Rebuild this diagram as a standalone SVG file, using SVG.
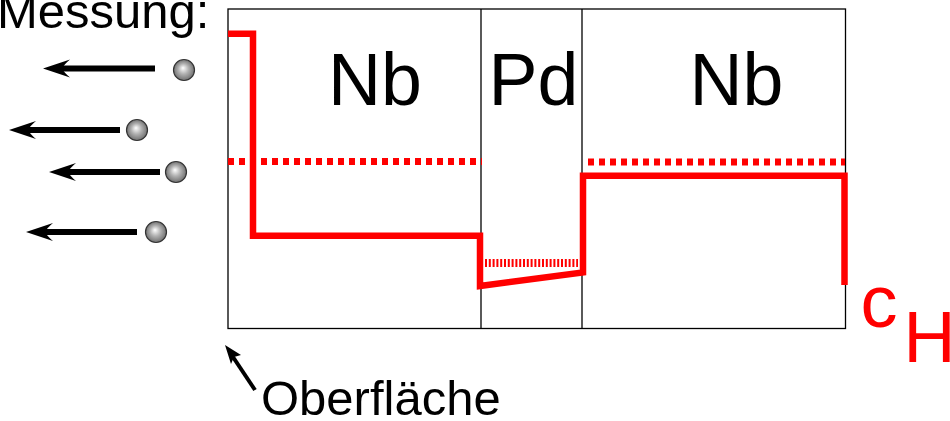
<svg xmlns="http://www.w3.org/2000/svg" width="950" height="421" viewBox="0 0 950 421">
<defs>
<radialGradient id="ball" cx="0.5" cy="0.5" r="0.5" fx="0.45" fy="0.4">
<stop offset="0" stop-color="#ffffff"/>
<stop offset="0.5" stop-color="#b0b0b0"/>
<stop offset="1" stop-color="#707070"/>
</radialGradient>
<path id="head" d="M0,0 Q12,-4 27,-9 Q21,-4 19,0 Q21,4 27,9 Q12,4 0,0 Z"/>
<style>
.txt{font-family:"Liberation Sans",Arial,sans-serif;fill:#000}
.box{fill:none;stroke:#000;stroke-width:1.3}
.red{fill:none;stroke:#ff0000;stroke-width:6.5;stroke-linejoin:miter;stroke-linecap:butt}
.dot{fill:none;stroke:#ff0000;stroke-width:7;stroke-dasharray:6 5}
.dotfine{fill:none;stroke:#ff0000;stroke-width:8;stroke-dasharray:2 1.8}
.shaft{stroke:#000;stroke-width:6}
.ball{fill:url(#ball);stroke:#333;stroke-width:1.2}
</style>
</defs>
<rect width="950" height="421" fill="#fff"/>
<g id="frame">
<rect class="box" x="228" y="9" width="617.5" height="319.5"/>
<line class="box" x1="481" y1="9" x2="481" y2="328.5"/>
<line class="box" x1="582" y1="9" x2="582" y2="328.5"/>
</g>
<g id="labels">
<text class="txt" x="328" y="105" font-size="73.5">Nb</text>
<text class="txt" x="488.5" y="105" font-size="73.5">Pd</text>
<text class="txt" x="689.5" y="105" font-size="73.5">Nb</text>
<text class="txt" x="-3" y="28" font-size="49">Messung:</text>
<text class="txt" x="261" y="415" font-size="49">Oberfläche</text>
<text x="860.5" y="327" font-size="74" font-family="Liberation Sans,Arial,sans-serif" fill="#ff0000">c</text>
<text x="903.5" y="362" font-size="72" font-family="Liberation Sans,Arial,sans-serif" fill="#ff0000">H</text>
</g>
<g id="profile">
<polyline class="dot" points="228,161.5 482,161.5"/>
<polyline class="dot" points="588,162 845,162"/>
<polyline class="dotfine" points="485,263 578,263"/>
<polyline class="red" points="228,33.7 253,33.7 253,235.7 480,235.7 480,286 583,272.5 583,175.7 844.5,175.7 844.5,285"/>
</g>
<g id="particles">
<line class="shaft" x1="62" y1="68.5" x2="155" y2="68.5"/>
<use href="#head" x="43" y="68.5"/>
<circle class="ball" cx="184" cy="70" r="10.5"/>
<line class="shaft" x1="28" y1="130" x2="120" y2="130"/>
<use href="#head" x="9" y="130"/>
<circle class="ball" cx="137" cy="130" r="10.5"/>
<line class="shaft" x1="68" y1="172" x2="160" y2="172"/>
<use href="#head" x="49" y="172"/>
<circle class="ball" cx="176" cy="172" r="10.5"/>
<line class="shaft" x1="45" y1="232" x2="137" y2="232"/>
<use href="#head" x="26" y="232"/>
<circle class="ball" cx="156" cy="232" r="10.5"/>
</g>
<g id="surface-arrow">
<line x1="255" y1="390" x2="233" y2="357" stroke="#000" stroke-width="4"/>
<path d="M225,345 L241,355 L234,357 L231,364 Z" fill="#000"/>
</g>
</svg>
